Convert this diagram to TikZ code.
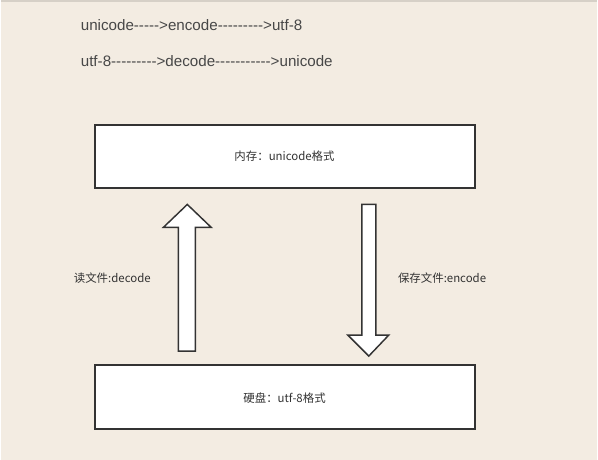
\documentclass[tikz,border=0pt]{standalone}
\usepackage{fontspec}
\newfontfamily\flowfont{Liberation Sans}
\newfontfamily\cjk{Noto Sans CJK SC}
\definecolor{bg}{HTML}{F3ECE2}
\definecolor{ink}{HTML}{333333}
\tikzset{
    membox/.style={draw=ink, line width=1.5pt, fill=white},
    bigarrow/.style={draw=ink, line width=1.1pt, fill=white, line join=miter},
    flowtxt/.style={anchor=west, text=ink!90, inner sep=0pt, font=\flowfont\fontsize{11.4}{13}\selectfont},
    boxtxt/.style={text=ink, inner sep=0pt, font=\cjk\fontsize{8.6}{10}\selectfont}
}
\begin{document}
\begin{tikzpicture}[x=0.75pt,y=-0.75pt]
        \fill[bg] (0,0) rectangle (598,461);
        \draw[bg!88!black, line width=1.2pt] (0,1) -- (598,1);
        \node[flowtxt] (enc) at (80,25) {unicode----->encode--------->utf-8};
        \node[flowtxt] (dec) at (80,61) {utf-8--------->decode----------->unicode};

        \draw[membox] (94,125) rectangle (475,188);
        \node[boxtxt] (mem) at (284.5,157) {内存：unicode格式};
        \draw[membox] (94,366) rectangle (475,430);
        \node[boxtxt] (disk) at (284.5,399) {硬盘：utf-8格式};

        \draw[bigarrow] (178,352) -- (178,228) -- (163,228) -- (187,205) -- (211,228) -- (195,228) -- (195,352) -- cycle;
        \draw[bigarrow] (362,205) -- (376,205) -- (376,336) -- (389,336) -- (369,357) -- (348,336) -- (362,336) -- cycle;
        \node[boxtxt, anchor=west] (read) at (73,279) {读文件:decode};
        \node[boxtxt, anchor=west] (save) at (398,279) {保存文件:encode};
\end{tikzpicture}
\end{document}
